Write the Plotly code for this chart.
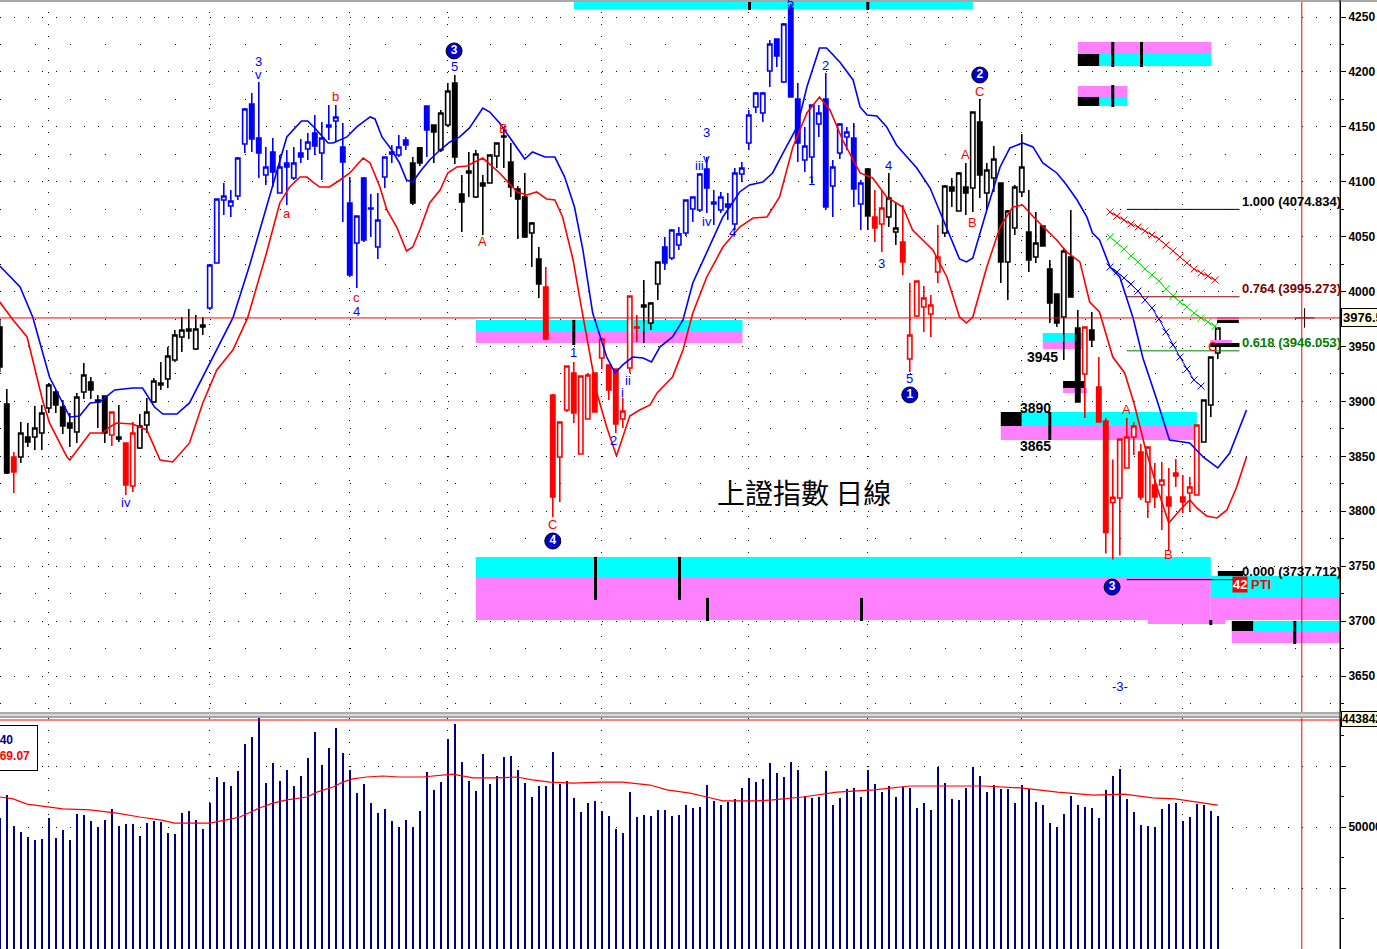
import plotly.graph_objects as go

# ---------------------------------------------------------------- data
bar_index = list(range(175))

# candle colour per bar: k = black, b = blue, r = red
candle_colour = ("kkrkkkkkkkkkkkkkrkrrkkkkkkkkkk"          # 0-29
                 "bbbbbbbbbbbbbbbbbbbbbbbbbbbbb"           # 30-58
                 "kkb"                                     # 59-61
                 "kkkkkkkkkkkkkkkk"                        # 62-77
                 "rrrrrrrrrrrrrr"                          # 78-91
                 "kkk"                                     # 92-94
                 "bbbbbbbbbbbbbbbbbbbbbbbbbbbbb"           # 95-123
                 "krrkkrrrrrr"                             # 124-134
                 "kkkkkkkkkkkkkkkkkkkk"                    # 135-154
                 "rkrrrrrrrrrrrrrrrkkk")                   # 155-174

open_ = [3967.8, 3897.7, 3849.4, 3849.4, 3867.6, 3867.6, 3871.2, 3894.0, 3908.6, 3894.9,
         3880.4, 3872.2, 3908.6, 3917.7, 3901.3, 3904.9, 3869.4, 3867.6, 3862.2, 3823.0,
         3857.6, 3878.5, 3899.5, 3916.8, 3920.4, 3937.7, 3958.7, 3966.0, 3947.7, 3969.6,
         3985.1, 4026.0, 4083.4, 4077.9, 4087.0, 4134.4, 4170.8, 4139.9, 4106.2, 4127.1,
         4089.8, 4117.1, 4103.4, 4126.2, 4129.8, 4144.4, 4126.2, 4151.7, 4155.3, 4131.7,
         4080.7, 4044.3, 4103.4, 4076.1, 4040.6, 4104.3, 4127.1, 4124.4, 4138.0, 4117.1,
         4130.8, 4169.0, 4151.7, 4128.9, 4151.7, 4189.9, 4088.9, 4109.8, 4086.1, 4098.9,
         4098.9, 4123.5, 4141.7, 4118.0, 4093.4, 4086.1, 4053.4, 4029.7, 4004.2, 3905.9,
         3849.4, 3892.2, 3925.9, 3852.1, 3884.0, 3925.9, 3939.5, 3933.2, 3929.5, 3884.0,
         3930.4, 3967.8, 3987.8, 3971.4, 4006.9, 4040.6, 4030.6, 4042.4, 4053.4, 4075.2,
         4074.3, 4111.6, 4081.6, 4074.3, 4079.7, 4061.5, 4107.1, 4135.3, 4168.1, 4162.6,
         4200.9, 4230.0, 4190.8, 4258.2, 4175.4, 4119.8, 4122.5, 4152.6, 4175.4, 4096.1,
         4126.2, 4140.8, 4139.9, 4079.7, 4111.6, 4067.9, 4061.5, 4067.9, 4054.3, 4045.1,
         3938.6, 3977.8, 3986.0, 3979.6, 4017.8, 4053.4, 4095.2, 4073.4, 4095.2, 4094.3,
         4154.4, 4089.8, 4103.4, 4098.9, 4027.0, 4057.9, 4090.7, 4054.3, 4031.5, 4059.7,
         4020.6, 3997.8, 3976.9, 4031.5, 3966.9, 3925.0, 3965.0, 3913.1, 3882.2, 3808.0,
         3812.1, 3839.4, 3867.6, 3853.9, 3808.4, 3823.9, 3823.9, 3813.0, 3834.8, 3813.0,
         3816.6, 3814.8, 3863.1, 3896.7, 3944.1]
high_ = [3974.1, 3911.3, 3854.0, 3881.3, 3880.4, 3895.8, 3896.7, 3916.8, 3910.4, 3901.3,
         3889.5, 3907.7, 3935.0, 3922.2, 3905.9, 3904.9, 3890.4, 3896.7, 3862.2, 3881.3,
         3888.6, 3903.1, 3921.3, 3935.9, 3949.5, 3965.0, 3976.9, 3984.2, 3978.7, 3976.9,
         4024.2, 4084.3, 4098.9, 4092.5, 4122.5, 4167.2, 4180.8, 4190.8, 4131.7, 4139.9,
         4124.4, 4128.9, 4131.7, 4139.0, 4144.4, 4160.8, 4154.4, 4169.9, 4169.9, 4153.5,
         4104.3, 4068.8, 4104.3, 4088.9, 4089.8, 4122.5, 4133.5, 4142.6, 4140.8, 4122.5,
         4131.7, 4169.0, 4151.7, 4165.3, 4189.9, 4197.2, 4106.2, 4127.1, 4128.9, 4106.2,
         4124.4, 4135.3, 4149.9, 4135.3, 4096.1, 4108.0, 4063.4, 4040.6, 4022.4, 3906.8,
         3881.3, 3932.2, 3935.9, 3923.1, 3925.9, 3925.9, 3957.7, 3933.2, 3929.5, 3903.1,
         3996.0, 3978.7, 4010.5, 3990.5, 4026.9, 4049.7, 4057.0, 4058.8, 4083.4, 4086.1,
         4108.0, 4122.5, 4092.5, 4090.7, 4089.8, 4112.5, 4118.0, 4165.3, 4181.7, 4181.7,
         4229.1, 4230.0, 4244.5, 4262.0, 4189.9, 4149.9, 4169.9, 4169.9, 4199.0, 4119.8,
         4153.5, 4149.9, 4153.5, 4101.6, 4112.5, 4092.5, 4092.5, 4108.0, 4080.7, 4078.8,
         4007.8, 4009.6, 4005.1, 3996.9, 4060.6, 4097.1, 4103.4, 4108.9, 4117.1, 4163.5,
         4175.4, 4117.1, 4132.6, 4098.9, 4074.3, 4097.1, 4143.5, 4092.5, 4072.5, 4060.5,
         4028.8, 3997.8, 4039.7, 4074.3, 3983.3, 3967.8, 3981.4, 3940.4, 3884.9, 3847.2,
         3865.8, 3884.9, 3881.3, 3861.3, 3858.5, 3843.9, 3844.8, 3839.4, 3847.6, 3833.0,
         3831.2, 3878.5, 3901.3, 3940.4, 3966.9]
low_ = [3926.8, 3833.9, 3816.6, 3843.9, 3858.5, 3855.8, 3855.8, 3889.5, 3889.5, 3870.3,
        3858.5, 3862.2, 3902.2, 3902.2, 3875.8, 3862.2, 3859.4, 3863.1, 3814.8, 3817.5,
        3856.7, 3871.2, 3898.6, 3910.4, 3912.2, 3935.9, 3945.0, 3956.8, 3946.8, 3960.5,
        3983.3, 4026.0, 4069.7, 4067.9, 4083.4, 4126.2, 4127.1, 4103.4, 4097.1, 4095.2,
        4089.8, 4078.8, 4101.6, 4117.1, 4119.8, 4124.4, 4101.6, 4138.0, 4136.2, 4063.4,
        4013.3, 4003.3, 4045.1, 4049.7, 4029.7, 4094.3, 4117.1, 4122.5, 4129.0, 4078.8,
        4114.4, 4122.5, 4117.1, 4127.1, 4149.9, 4116.2, 4054.3, 4086.1, 4085.2, 4051.5,
        4098.9, 4112.5, 4112.5, 4086.1, 4047.9, 4048.8, 4022.4, 3994.2, 3955.9, 3794.8,
        3808.4, 3890.4, 3880.4, 3852.1, 3884.0, 3890.4, 3929.5, 3901.3, 3871.2, 3875.8,
        3925.9, 3954.1, 3953.2, 3965.0, 3992.3, 4019.6, 4028.8, 4037.9, 4050.6, 4063.4,
        4072.5, 4071.6, 4060.6, 4071.6, 4065.2, 4056.1, 4099.8, 4128.9, 4162.6, 4154.4,
        4186.3, 4204.5, 4189.9, 4177.2, 4118.0, 4108.9, 4098.9, 4140.8, 4074.3, 4067.9,
        4120.7, 4128.9, 4077.0, 4056.1, 4056.1, 4045.1, 4036.1, 4058.8, 4042.4, 4015.1,
        3926.8, 3976.9, 3963.2, 3958.7, 4007.8, 4049.7, 4077.0, 4073.4, 4069.7, 4072.5,
        4085.2, 4074.3, 4090.7, 4007.8, 3992.3, 4051.5, 4086.1, 4017.8, 4026.0, 4041.5,
        3971.4, 3967.8, 3937.7, 3995.1, 3899.5, 3884.9, 3949.5, 3881.3, 3761.6, 3756.1,
        3759.8, 3839.4, 3851.2, 3810.3, 3793.9, 3803.0, 3783.0, 3764.7, 3822.1, 3798.4,
        3799.3, 3814.8, 3863.1, 3885.8, 3938.6]
close_ = [3931.3, 3834.8, 3835.7, 3871.2, 3863.1, 3875.8, 3889.5, 3915.0, 3896.7, 3877.6,
          3875.8, 3904.0, 3924.1, 3910.4, 3899.5, 3871.2, 3890.4, 3865.8, 3823.9, 3871.2,
          3877.6, 3890.4, 3918.6, 3915.0, 3941.4, 3960.5, 3965.0, 3964.1, 3966.0, 3967.8,
          4024.2, 4084.3, 4087.0, 4082.5, 4121.6, 4166.3, 4138.9, 4126.2, 4113.5, 4108.9,
          4113.5, 4113.5, 4117.1, 4122.5, 4136.2, 4132.6, 4139.9, 4149.9, 4159.0, 4118.0,
          4015.1, 4068.8, 4047.0, 4075.2, 4065.2, 4122.5, 4125.3, 4131.7, 4133.5, 4080.7,
          4117.1, 4147.1, 4145.3, 4162.6, 4182.6, 4122.5, 4081.6, 4108.0, 4125.3, 4096.1,
          4124.4, 4135.3, 4140.8, 4095.2, 4084.3, 4049.7, 4062.5, 4006.9, 3956.8, 3813.0,
          3881.3, 3932.2, 3889.5, 3923.1, 3924.1, 3890.4, 3956.8, 3910.4, 3879.5, 3891.3,
          3996.0, 3966.9, 3986.0, 3989.6, 4026.9, 4026.0, 4056.1, 4052.5, 4083.4, 4086.1,
          4107.1, 4094.3, 4079.7, 4086.1, 4077.0, 4108.0, 4112.5, 4160.8, 4180.8, 4180.8,
          4225.4, 4214.5, 4243.6, 4177.2, 4135.3, 4132.6, 4169.9, 4162.6, 4077.0, 4113.5,
          4152.6, 4145.3, 4093.4, 4098.9, 4068.8, 4057.9, 4076.1, 4085.2, 4057.9, 4027.0,
          3960.5, 4009.6, 3994.2, 3987.8, 4031.5, 4096.1, 4091.6, 4108.0, 4089.8, 4163.5,
          4106.2, 4110.7, 4120.7, 4027.0, 4073.4, 4095.2, 4113.5, 4028.8, 4044.3, 4041.5,
          3989.6, 3971.4, 4037.0, 3995.1, 3899.5, 3967.8, 3955.9, 3881.3, 3780.7, 3812.6,
          3865.8, 3867.6, 3877.6, 3813.0, 3858.5, 3813.0, 3828.4, 3804.8, 3832.1, 3808.4,
          3822.1, 3878.5, 3901.3, 3940.4, 3966.9]

volume = [537000, 631000, 504000, 479000, 459000, 447000, 451000, 537000, 455000, 488000,
          447000, 553000, 549000, 525000, 500000, 529000, 574000, 504000, 512000, 512000,
          463000, 516000, 525000, 520000, 475000, 471000, 557000, 566000, 529000, 492000,
          598000, 705000, 684000, 668000, 729000, 840000, 869000, 955000, 680000, 762000,
          688000, 734000, 668000, 709000, 783000, 889000, 754000, 824000, 906000, 803000,
          734000, 639000, 676000, 598000, 557000, 574000, 525000, 500000, 529000, 500000,
          566000, 725000, 652000, 684000, 861000, 922000, 766000, 688000, 648000, 799000,
          676000, 709000, 787000, 791000, 734000, 680000, 623000, 668000, 668000, 807000,
          676000, 688000, 619000, 561000, 598000, 607000, 566000, 545000, 492000, 475000,
          643000, 541000, 549000, 545000, 570000, 570000, 545000, 549000, 590000, 578000,
          582000, 672000, 607000, 590000, 602000, 615000, 660000, 701000, 684000, 697000,
          762000, 721000, 705000, 766000, 734000, 627000, 619000, 623000, 729000, 590000,
          619000, 656000, 660000, 623000, 734000, 676000, 643000, 668000, 623000, 664000,
          660000, 578000, 598000, 570000, 746000, 680000, 615000, 611000, 660000, 746000,
          709000, 643000, 672000, 656000, 656000, 598000, 672000, 656000, 602000, 590000,
          516000, 500000, 553000, 627000, 590000, 582000, 578000, 537000, 652000, 709000,
          738000, 615000, 561000, 508000, 504000, 500000, 574000, 594000, 598000, 525000,
          541000, 594000, 590000, 566000, 545000]

vol_ma_bar = [0, 1.9, 3.9, 7, 9, 12.9, 16.7, 20, 22.9, 25, 28.6, 30, 32.4, 34.3, 37.1, 39,
              41, 43.9, 45.3, 47.6, 49, 50.4, 52.4, 54.7, 57.1, 60.4, 64.7, 67.6, 71, 73.9,
              76.1, 78.6, 81.9, 85.7, 89, 92.9, 95.3, 98.6, 101, 103.3, 108.1, 110.4, 114.7,
              119.6, 124.9, 130, 140.6, 145.9, 151.1, 156.3, 160.6, 164.7, 167.9, 172.1, 174]
vol_ma_val = [623000, 615000, 594000, 582000, 574000, 570000, 557000, 541000, 529000, 516000,
              516000, 516000, 529000, 541000, 578000, 598000, 611000, 623000, 643000, 664000,
              684000, 697000, 705000, 709000, 705000, 705000, 717000, 701000, 701000, 705000,
              693000, 684000, 680000, 684000, 684000, 672000, 652000, 639000, 623000, 607000,
              607000, 611000, 623000, 643000, 652000, 668000, 668000, 660000, 643000, 631000,
              635000, 619000, 615000, 598000, 590000]

upper_band_bar = [0, 2.9, 4.7, 7.1, 10, 11.4, 12.9, 14.3, 16.4, 19, 20.4, 22.1, 23.3, 25.3,
                  27.1, 29, 31.4, 33.3, 35.7, 38.9, 41, 43.1, 44, 45, 46.9, 47.6, 49.6, 51,
                  52.9, 53.6, 54.6, 56, 57.1, 58.1, 59, 60, 61.4, 62.9, 64.3, 65.7, 67.1, 69,
                  70, 71.4, 75, 76.1, 77.9, 79.3, 80.7, 82.1, 83.3, 84.7, 86.7, 87.9, 89, 90.4,
                  91.9, 93.1, 94.3, 96.1, 97.6, 99, 101, 103.3, 105.7, 107.1, 109, 110.4,
                  111.9, 113.9, 115.3, 117.1, 118.1, 120, 121.9, 122.9, 123.9, 125.3, 126.7,
                  128.1, 129.6, 131, 132.9, 134.3, 135.3, 137.1, 138.1, 139, 141, 142.9, 144.3,
                  146.1, 147.6, 149, 151, 152.4, 153.9, 155.3, 156.1, 157.1, 158.6, 160, 161.9,
                  163.3, 165.3, 167.1, 170, 171.9, 174, 175.7, 178.1]
upper_band_val = [4023.3, 4004.2, 3976.9, 3922.2, 3885.8, 3886.7, 3898.6, 3899.5, 3910.4,
                  3912.2, 3912.2, 3894.9, 3888.5, 3888.5, 3898.6, 3922.2, 3953.2, 3976.0,
                  4024.2, 4095.2, 4140.8, 4155.3, 4155.3, 4148.9, 4135.3, 4135.3, 4140.8,
                  4149.9, 4159.0, 4157.2, 4140.8, 4128.9, 4117.1, 4101.6, 4099.8, 4108.9,
                  4119.8, 4128.9, 4136.2, 4140.8, 4149.0, 4167.2, 4163.5, 4153.5, 4120.7,
                  4127.1, 4122.5, 4122.5, 4104.3, 4077.0, 4037.9, 3980.5, 3940.4, 3925.9,
                  3933.2, 3940.4, 3939.5, 3935.9, 3949.5, 3958.7, 3974.1, 4007.8, 4035.1,
                  4067.9, 4090.7, 4097.1, 4099.8, 4108.0, 4126.2, 4149.9, 4186.3, 4221.8,
                  4221.8, 4209.0, 4192.7, 4168.1, 4160.8, 4159.9, 4149.9, 4133.5, 4122.5,
                  4112.5, 4094.3, 4072.5, 4056.1, 4029.7, 4027.0, 4030.6, 4074.3, 4113.5,
                  4130.8, 4135.3, 4131.7, 4117.1, 4108.0, 4097.1, 4083.4, 4067.9, 4053.4,
                  4047.0, 4022.4, 4013.3, 3976.0, 3939.5, 3901.3, 3864.9, 3862.2, 3849.4,
                  3839.4, 3853.0, 3892.2]

lower_band_bar = [0, 1.9, 3.9, 4.7, 6.1, 7.1, 9.6, 10, 11.4, 12.9, 14.7, 15.7, 16.7, 19, 21,
                  22.9, 24.7, 27.1, 29, 31, 33.3, 35.4, 38.1, 40, 41.4, 42.9, 43.9, 44.7, 45.7,
                  47.1, 48.6, 50, 51.9, 52.9, 54.3, 55.3, 56.7, 58.1, 59, 60, 61.4, 62.9, 64,
                  65.3, 66.7, 69, 71.4, 73.9, 75.3, 76.7, 78.1, 79.3, 80.4, 81.9, 82.9, 83.9,
                  85.3, 86.7, 88.1, 90, 91.4, 92.9, 93.9, 96.1, 97.6, 99, 101, 103.3, 105.7,
                  107.6, 109.6, 111.4, 113.3, 115.3, 117.1, 118.6, 120.4, 122.9, 124.7, 126.7,
                  129, 130.4, 133.3, 135.3, 137.1, 138.1, 139, 141, 142.9, 144.7, 146.1, 148.1,
                  149.6, 151, 152.4, 154.3, 155.7, 157.1, 159, 160.7, 162.1, 163.6, 165.3, 167,
                  168.6, 170, 171, 172.4, 173.9, 175.3, 176.7, 178.1]
lower_band_val = [3990.5, 3974.1, 3958.7, 3937.7, 3901.3, 3880.4, 3849.4, 3846.7, 3858.5,
                  3871.2, 3871.2, 3876.7, 3880.4, 3879.5, 3874.0, 3846.7, 3844.9, 3862.2,
                  3898.6, 3928.6, 3946.8, 3976.0, 4035.1, 4080.7, 4095.2, 4104.3, 4104.3,
                  4099.8, 4095.2, 4095.2, 4101.6, 4108.0, 4121.6, 4117.1, 4095.2, 4074.3,
                  4058.8, 4037.0, 4040.6, 4056.1, 4080.7, 4092.5, 4108.0, 4113.5, 4114.4,
                  4121.6, 4108.0, 4090.7, 4088.0, 4090.7, 4084.3, 4083.4, 4067.9, 4028.8,
                  3992.3, 3955.9, 3907.7, 3876.7, 3850.3, 3886.7, 3892.2, 3896.8, 3907.7,
                  3922.2, 3946.8, 3980.5, 4013.3, 4040.6, 4058.8, 4067.0, 4067.9, 4086.1,
                  4131.7, 4162.6, 4177.2, 4165.3, 4138.0, 4108.0, 4103.4, 4086.1, 4077.0,
                  4056.1, 4037.9, 4013.3, 3976.9, 3971.4, 3976.9, 4022.4, 4058.8, 4077.0,
                  4078.8, 4065.2, 4056.1, 4047.0, 4036.1, 4027.0, 3990.5, 3981.4, 3940.4,
                  3925.9, 3896.8, 3858.5, 3822.1, 3789.3, 3801.2, 3810.3, 3803.0, 3795.7,
                  3793.9, 3801.2, 3822.1, 3849.4]

# projection lines drawn with x markers
proj_bar = [158.6, 159.6, 160.6, 161.6, 162.6, 163.6, 164.6, 165.6, 166.6, 167.6, 168.6,
            169.6, 170.6, 171.6, 172.6, 173.6]
proj_red = [4072.5, 4068.8, 4065.2, 4061.5, 4058.8, 4055.2, 4051.5, 4047.9, 4042.4, 4037.0,
            4031.5, 4026.0, 4020.6, 4017.0, 4014.2, 4010.6]
proj_green = [4049.7, 4044.3, 4038.8, 4032.4, 4027.0, 4020.6, 4015.1, 4009.6, 4002.4, 3996.0,
              3990.5, 3986.0, 3980.5, 3976.0, 3972.3, 3968.7]
proj_blue = [4022.4, 4017.9, 4012.4, 4006.9, 4000.5, 3992.3, 3985.1, 3975.0, 3963.2, 3951.4,
             3940.4, 3929.5, 3919.5, 3914.0]

fib_ratio = ["1.000", "0.764", "0.618", "0.000"]
fib_price = [4074.834, 3995.273, 3946.053, 3737.712]

month_marks = [7, 30, 50, 64, 86, 107, 124, 146, 169]
last_price = 3976
cursor_bar = 186

# ---------------------------------------------------------------- styling
BLUE = "#0000ff"
RED = "#ff0000"
CYAN = "#00ffff"
PINK = "#ff80ff"
NAVY = "#000080"
colour_map = {"k": "#000000", "b": BLUE, "r": RED}
W, H = 1377, 949
PR = 1340 / W                      # right edge of plotting area (paper)
PRICE_DOM = [1 - 712 / H, 1]
VOL_DOM = [0, 1 - 718 / H]
FONT = "Liberation Sans"
NARROW = "Liberation Sans Narrow, Liberation Sans, Arial"

fig = go.Figure()

# envelope lines
fig.add_trace(go.Scatter(x=upper_band_bar, y=upper_band_val, mode="lines",
                         line=dict(color=BLUE, width=1.6), hoverinfo="skip"))
fig.add_trace(go.Scatter(x=lower_band_bar, y=lower_band_val, mode="lines",
                         line=dict(color=RED, width=1.6), hoverinfo="skip"))

# candles grouped by colour
for code, col in colour_map.items():
    idx = [i for i, c in enumerate(candle_colour) if c == code]
    fig.add_trace(go.Candlestick(
        x=[bar_index[i] for i in idx],
        open=[open_[i] for i in idx], high=[high_[i] for i in idx],
        low=[low_[i] for i in idx], close=[close_[i] for i in idx],
        increasing=dict(line=dict(color=col, width=1.6), fillcolor="white"),
        decreasing=dict(line=dict(color=col, width=1.6), fillcolor=col),
        whiskerwidth=0, hoverinfo="skip", xaxis="x", yaxis="y"))

# projection lines
for vals, col in [(proj_red, RED), (proj_green, "#00ee00"), (proj_blue, BLUE)]:
    fig.add_trace(go.Scatter(x=proj_bar[:len(vals)], y=vals, mode="lines+markers",
                             line=dict(color=col, width=1),
                             marker=dict(symbol="x-thin", size=7,
                                         line=dict(color=col, width=1)),
                             hoverinfo="skip"))

# volume
fig.add_trace(go.Bar(x=bar_index, y=volume, width=0.3, marker=dict(color=NAVY, line=dict(width=0)),
                     xaxis="x2", yaxis="y2", hoverinfo="skip"))
fig.add_trace(go.Scatter(x=vol_ma_bar, y=vol_ma_val, mode="lines", line=dict(color=RED, width=1.2),
                         xaxis="x2", yaxis="y2", hoverinfo="skip"))

# wave-count circles
circ = [("3", 64.9, 4219.1), ("4", 79.0, 3772.9), ("1", 130.0, 3905.9),
        ("2", 140.0, 4197.2), ("3", 158.9, 3731.0)]
fig.add_trace(go.Scatter(x=[c[1] for c in circ], y=[c[2] for c in circ], mode="markers+text",
                         text=[c[0] for c in circ], textposition="middle center",
                         textfont=dict(color="white", size=12, family=FONT, weight="bold"),
                         marker=dict(size=16, color="#0000cc", line=dict(color="black", width=1)),
                         hoverinfo="skip"))
# cursor cross
fig.add_trace(go.Scatter(x=[cursor_bar + 0.4], y=[last_price], mode="markers",
                         marker=dict(symbol="cross-thin", size=14, line=dict(color="black", width=1)),
                         hoverinfo="skip"))

shapes = []


def rect(x0, x1, y0, y1, col, layer="between", xref="x", yref="y"):
    shapes.append(dict(type="rect", xref=xref, yref=yref, x0=x0, x1=x1, y0=y0, y1=y1,
                       fillcolor=col, line=dict(width=0), layer=layer))


def tick(x, y0, y1, width=3):
    shapes.append(dict(type="line", xref="x", yref="y", x0=x, x1=x, y0=y0, y1=y1,
                       line=dict(color="black", width=width), layer="between"))


# zones
rect(82.0, 139.0, 4257.3, 4270, CYAN)
tick(107.1, 4256.4, 4270); tick(124.0, 4256.4, 4270)
rect(68.0, 106.1, 3963.2, 3974.1, CYAN); rect(68.0, 106.1, 3953.2, 3963.2, PINK)
tick(82.0, 3951.4, 3974.1)
rect(68.0, 173.0, 3740.1, 3758.4, CYAN); rect(68.0, 173.0, 3701.0, 3740.1, PINK)
rect(164.0, 175.1, 3697.3, 3701.0, PINK)
tick(85.1, 3719.3, 3758.4); tick(97.1, 3719.3, 3758.4)
tick(101.1, 3700.1, 3721.1); tick(123.1, 3700.1, 3721.1); tick(173.0, 3696.4, 3701.0)
rect(173.0, 192, 3721.9, 3741.0, CYAN); rect(173.0, 192, 3701.0, 3721.9, PINK)
rect(176.0, 179.1, 3691.0, 3700.1, "black"); rect(179.1, 192, 3691.0, 3700.1, CYAN)
rect(176.0, 192, 3680.0, 3691.0, PINK); tick(185.0, 3679.1, 3700.1)
rect(143.0, 146.0, 3877.6, 3890.4, "black"); rect(146.0, 171.0, 3877.6, 3890.4, CYAN)
rect(143.0, 171.0, 3864.9, 3877.6, PINK); tick(150.0, 3864.9, 3890.4)
rect(149.0, 155.3, 3955.0, 3962.3, CYAN); rect(149.0, 155.3, 3947.7, 3955.0, PINK)
rect(151.9, 155.0, 3912.2, 3918.6, "black"); rect(151.9, 155.3, 3907.7, 3912.2, PINK)
rect(154.0, 173.1, 4216.3, 4227.3, PINK); rect(154.0, 157.1, 4205.4, 4216.3, "black")
rect(157.1, 173.1, 4205.4, 4216.3, CYAN); tick(159.0, 4204.5, 4227.3); tick(163.1, 4204.5, 4227.3)
rect(154.0, 161.1, 4177.2, 4187.2, PINK); rect(154.0, 157.1, 4169.0, 4177.2, "black")
rect(157.1, 161.1, 4169.0, 4177.2, CYAN); tick(159.0, 4168.1, 4188.1)
rect(173.9, 177.0, 3974.1, 3976.9, PINK, layer="above"); rect(173.9, 177.0, 3971.4, 3974.1, "black", layer="above")
rect(172.9, 176.0, 3953.2, 3955.9, PINK, layer="above"); rect(172.9, 177.1, 3949.5, 3953.2, "black", layer="above")
rect(174.0, 177.6, 3741.0, 3745.6, "black", layer="above")

# fibonacci lines
fib_cols = ["black", "#800000", "#008000", "black"]
for p, col in zip(fib_price, fib_cols):
    shapes.append(dict(type="line", xref="x", yref="y", x0=161.0, x1=177.1, y0=p, y1=p,
                       line=dict(color=col, width=1), layer="above"))

# last price line and cursor
shapes.append(dict(type="line", xref="paper", yref="y", x0=0, x1=PR, y0=last_price, y1=last_price,
                   line=dict(color=RED, width=1), layer="above"))
shapes.append(dict(type="line", xref="x", yref="paper", x0=cursor_bar, x1=cursor_bar, y0=0, y1=1,
                   line=dict(color=RED, width=1), layer="above"))
shapes.append(dict(type="line", xref="paper", yref="y2", x0=0, x1=PR, y0=938500, y1=938500,
                   line=dict(color=RED, width=1), layer="above"))
# pane separator and frame
shapes.append(dict(type="rect", xref="paper", yref="paper", x0=0, x1=1, y0=1 - 718 / H, y1=1 - 712 / H,
                   fillcolor="#d8d8d8", line=dict(width=0), layer="above"))
for yy, c in [(713, "#808080"), (717, "#707070")]:
    shapes.append(dict(type="line", xref="paper", yref="paper", x0=0, x1=1, y0=1 - yy / H, y1=1 - yy / H,
                       line=dict(color=c, width=1), layer="above"))
shapes.append(dict(type="rect", xref="paper", yref="paper", x0=0, x1=1, y0=1 - 2 / H, y1=1,
                   fillcolor="#a8a8a8", line=dict(width=0), layer="above"))
shapes.append(dict(type="line", xref="paper", yref="paper", x0=PR, x1=PR, y0=0, y1=1,
                   line=dict(color="black", width=1), layer="above"))

annotations = []


def label(text, x, y, col, size=13, bold=False, xanchor="center", bg=None, family=FONT):
    annotations.append(dict(text=text, x=x, y=y, xref="x", yref="y", showarrow=False,
                            xanchor=xanchor, yanchor="middle",
                            font=dict(color=col, size=size, family=family,
                                      weight="bold" if bold else "normal"),
                            bgcolor=bg, borderpad=0))


waves = [("3", 36.9, 4209.9, BLUE), ("v", 36.9, 4198.1, BLUE), ("iv", 18.0, 3808.4, BLUE),
         ("c", 50.9, 3994.2, RED), ("4", 50.9, 3982.3, BLUE), ("a", 41.0, 4071.5, RED),
         ("b", 48.0, 4177.2, RED), ("5", 64.9, 4204.5, BLUE), ("A", 69.0, 4045.2, RED),
         ("B", 72.0, 4148.9, RED), ("1", 81.9, 3944.1, BLUE), ("C", 79.0, 3787.5, RED),
         ("2", 87.7, 3864.0, BLUE), ("ii", 89.8, 3918.6, BLUE), ("i", 89.0, 3908.0, BLUE),
         ("3", 100.9, 4145.3, BLUE), ("iii", 100.0, 4114.4, BLUE), ("v", 101.0, 4121.6, BLUE),
         ("iv", 101.0, 4063.4, BLUE), ("4", 104.7, 4053.4, BLUE), ("5", 112.9, 4263.5, BLUE),
         ("2", 117.9, 4206.3, BLUE), ("1", 115.9, 4100.7, BLUE), ("4", 126.9, 4114.4, BLUE),
         ("3", 125.9, 4026.0, BLUE), ("5", 129.9, 3921.3, BLUE), ("C", 140.0, 4182.6, RED),
         ("A", 137.9, 4124.4, RED), ("B", 138.9, 4062.5, RED), ("A", 161.0, 3892.2, RED),
         ("B", 166.9, 3760.2, RED), ("C", 173.3, 3949.6, RED), ("-3-", 160.0, 3640.0, BLUE)]
for t, x, y, c in waves:
    label(t, x, y, c)

for t, x, y in [("3945", 149.0, 3940.5), ("3890", 148.0, 3894.0), ("3865", 148.0, 3859.4)]:
    label(t, x, y, "black", size=14, bold=True, family=NARROW)

for r, p, col in zip(fib_ratio, fib_price, fib_cols):
    label(f"{r} ({p:.3f})", 177.3, p + 7.3, col, size=13, bold=True, xanchor="left", family=NARROW)

label("42", 176.0, 3733.6, "white", size=13, bold=True, xanchor="left", bg=RED, family=NARROW)
label("PTI", 178.6, 3733.6, RED, size=13, bold=True, xanchor="left", family=NARROW)
label("上證指數 日線", 114.9, 3817.5, "black", size=28, family="Noto Sans CJK TC")

# value boxes on the right axis
annotations.append(dict(text="3976.5", x=PR + 1 / W, y=last_price, xref="paper", yref="y",
                        xanchor="left", yanchor="middle", showarrow=False, bgcolor="#ffffe0",
                        bordercolor="black", borderwidth=1, borderpad=1,
                        font=dict(family=FONT, size=13, weight="bold", color="black")))
annotations.append(dict(text="4438420", x=PR + 1 / W, y=1 - 719 / H, xref="paper", yref="paper",
                        xanchor="left", yanchor="middle", showarrow=False, bgcolor="#ffffe0",
                        bordercolor="black", borderwidth=1, borderpad=0,
                        font=dict(family=FONT, size=12, weight="bold", color="black")))
# volume legend box (left part runs off the page, as in the original)
annotations.append(dict(text="443840<br><span style='color:#ff0000'>436969.07</span>",
                        x=38 / W, y=1 - 748 / H, xref="paper", yref="paper", xanchor="right",
                        yanchor="middle", align="left", showarrow=False, bgcolor="white",
                        bordercolor="black", borderwidth=1, borderpad=7,
                        font=dict(family=FONT, size=12, weight="bold", color=NAVY)))

grid_x = dict(showgrid=True, gridcolor="black", gridwidth=1, griddash="1px,11px",
              tickvals=month_marks, showticklabels=False, ticks="", zeroline=False,
              showline=False, range=[0.03, 0.03 + 1340 / 7], domain=[0, PR], automargin=False)

fig.update_layout(
    template="none", width=W, height=H, margin=dict(l=0, r=0, t=0, b=0),
    paper_bgcolor="white", plot_bgcolor="white", showlegend=False,
    boxgap=0.38, boxgroupgap=0, bargap=0,
    xaxis=dict(**grid_x, anchor="y", rangeslider=dict(visible=False)),
    xaxis2=dict(**grid_x, anchor="y2", matches="x"),
    yaxis=dict(domain=PRICE_DOM, range=[3617.23, 4265.48], side="right", anchor="x",
               dtick=50, tick0=0, ticks="outside", ticklen=5, tickcolor="black",
               showline=True, linecolor="black", linewidth=1, zeroline=False,
               showgrid=True, gridcolor="black", gridwidth=1, griddash="1px,13px",
               minor=dict(dtick=25, tick0=0, ticks="outside", ticklen=3, tickcolor="black",
                          showgrid=True, gridcolor="black", griddash="1px,34px"),
               tickfont=dict(family=FONT, size=12, weight="bold", color="black"),
               automargin=False),
    yaxis2=dict(domain=VOL_DOM, range=[0, 946700], side="right", anchor="x2",
                tickvals=[250000, 500000, 750000], ticktext=["", "500000", ""],
                ticks="outside", ticklen=5, tickcolor="black", showline=True,
                linecolor="black", zeroline=False, showgrid=True, gridcolor="black",
                griddash="1px,13px",
                minor=dict(dtick=125000, ticks="outside", ticklen=3, tickcolor="black"),
                tickfont=dict(family=FONT, size=12, weight="bold", color="black"),
                automargin=False),
    shapes=shapes, annotations=annotations,
)

fig.write_html("out.html", config={"displayModeBar": False},
               post_script="document.body.style.margin='0px';document.body.style.padding='0px';"
                           "document.body.style.overflow='hidden';")
